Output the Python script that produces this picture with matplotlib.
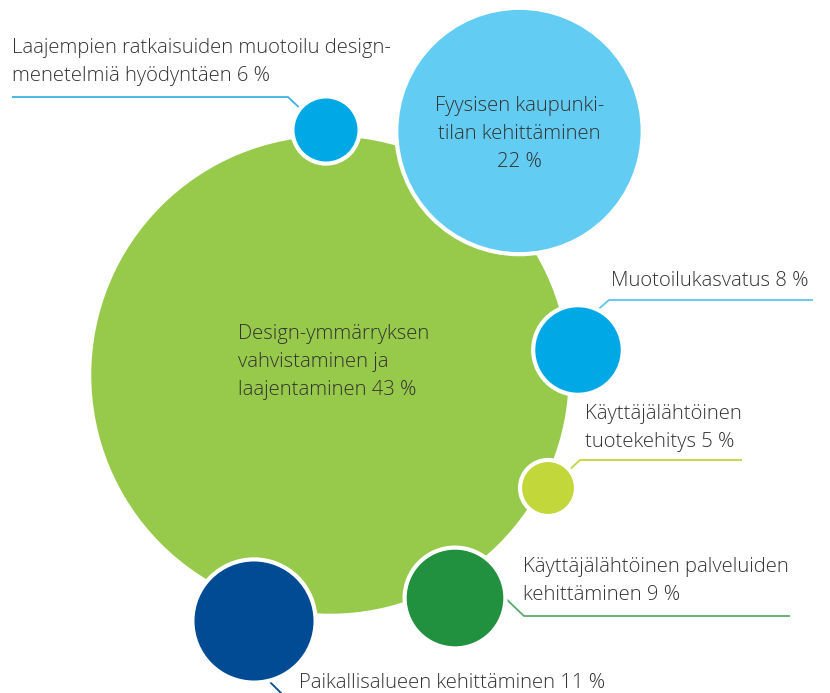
import matplotlib
matplotlib.use("Agg")
import matplotlib.pyplot as plt
from matplotlib.patches import Circle

plt.rcParams['font.family'] = ['Open Sans', 'DejaVu Sans']

# ---- data ----
labels = [
    "Design-ymmärryksen\nvahvistaminen ja\nlaajentaminen 43 %",
    "Fyysisen kaupunki-\ntilan kehittäminen\n22 %",
    "Laajempien ratkaisuiden muotoilu design-\nmenetelmiä hyödyntäen 6 %",
    "Muotoilukasvatus 8 %",
    "Käyttäjälähtöinen\ntuotekehitys 5 %",
    "Käyttäjälähtöinen palveluiden\nkehittäminen 9 %",
    "Paikallisalueen kehittäminen 11 %",
]
values = [43, 22, 6, 8, 5, 9, 11]

# ---- layout / style ----
colors = ["#97c94a", "#63ccf2", "#00a9e6", "#00a9e6", "#c1d73a", "#21913f", "#004b93"]
line_colors = [None, None, "#3bb4e5", "#5ec6ef", "#c1d73a", "#5aab6e", "#004b93"]
centers = [(330, 375), (519.5, 131), (326, 130), (578, 350), (548, 488), (455, 598), (254, 621)]
scale = 5.6  # pixel radius per percentage point

# label anchor (x, baseline of last line), horizontal alignment
label_pos = [(238, 395, 'left'), (519.5, 167, 'center'), (12, 81, 'left'), (611, 286, 'left'),
             (585, 447, 'left'), (523, 600, 'left'), (299, 688, 'left')]
# leader lines
leaders = [None, None,
           [(12, 97), (288, 97), (304, 112)],
           [(813, 300), (609, 300), (594, 313)],
           [(742, 460), (580, 460), (566, 473)],
           [(790, 616), (524, 616), (503, 596)],
           [(264, 676), (282, 694)]]

W, H = 830, 693
fig = plt.figure(figsize=(W / 100, H / 100), dpi=100)
ax = fig.add_axes([0, 0, 1, 1])
ax.set_xlim(0, W)
ax.set_ylim(H, 0)
ax.set_aspect('equal')
ax.axis('off')

for i, (v, c, (cx, cy)) in enumerate(zip(values, colors, centers)):
    ax.add_patch(Circle((cx, cy), v * scale, facecolor=c, edgecolor='white',
                        linewidth=3.0, zorder=2 + i))

for i, pts in enumerate(leaders):
    if pts is None:
        continue
    xs, ys = zip(*pts)
    ax.plot(xs, ys, color=line_colors[i], linewidth=1.3, zorder=1,
            solid_capstyle='butt')

for lab, (x, y, ha) in zip(labels, label_pos):
    ax.text(x, y, lab, ha=ha, va='baseline', fontsize=14.6, color='#333333',
            fontweight='light', linespacing=1.55, zorder=20, multialignment=ha)

fig.savefig("out.png", dpi=100)
